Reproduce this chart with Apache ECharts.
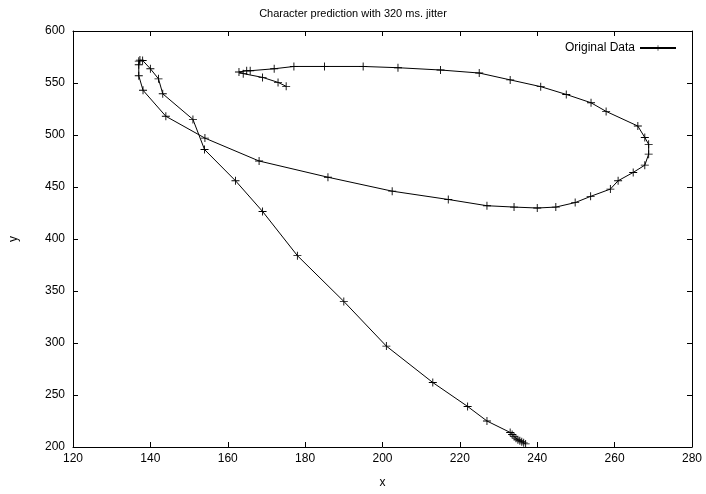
<!DOCTYPE html>
<html><head><meta charset="utf-8">
<script src="https://cdn.jsdelivr.net/npm/echarts@6/dist/echarts.min.js"></script>
<style>html,body{margin:0;padding:0;background:#fff}#c{width:706px;height:494px}</style>
</head><body><div id="c"></div>
<script>
var titleText = 'Character prediction with 320 ms. jitter';
var seriesName = 'Original Data';
var xTicks = [120, 140, 160, 180, 200, 220, 240, 260, 280];
var yTicks = [200, 250, 300, 350, 400, 450, 500, 550, 600];
var xValues = [237,236.5,236,235.5,235,234.5,234,233.5,233,227,222,213,201,190,178,169,162,154,151,143.2,142.1,140,138,137.3,137,137,137,138.1,144,154.1,168.1,185.9,202.5,217,227,234,240,244.8,249.8,253.8,258.9,260.9,264.8,267.8,268.8,268.8,267.8,266,257.8,253.9,247.5,240.9,233,225,215,204,195,185,177.1,172,165.8,164.9,162.9,164,169,173,175.1];
var yValues = [203,204,205,206,207,208.5,210,212,214,225,239,262,297,340,384,426.5,456,486,515,539.6,554,563.7,571.7,572,571,567.5,557,543,518,497,475,459.4,446,438,432,430.7,429.8,430.7,435,441,448,456,464,471,481.6,491,497.6,508.6,522.7,531,539,546.5,553,559.6,562.5,564.7,565.9,565.9,565.9,563.7,561.8,561.8,560.6,559,555.4,550.6,546.8];

var data = xValues.map(function(x, i){ return [x, yValues[i]]; });
var font = 'Liberation Sans, Arial, sans-serif';
var cross = 'path://M4,0h1v4h4v1h-4v4h-1v-4h-4v-1h4z';

function xAx(pos, show) {
  return {
    type: 'value', position: pos, min: xTicks[0], max: xTicks[xTicks.length-1], interval: 20,
    name: show ? 'x' : '', nameLocation: 'middle', nameGap: 30,
    nameTextStyle: {color:'#000', fontSize: 12, fontFamily: font},
    axisLine: {show: true, onZero: false, lineStyle: {color:'#000', width: 1}},
    axisTick: {show: true, inside: true, length: 5, lineStyle: {color:'#000'}},
    axisLabel: {show: show, color:'#000', fontSize: 12, fontFamily: font, margin: 6},
    splitLine: {show: false}
  };
}
function yAx(pos, show) {
  return {
    type: 'value', position: pos, min: yTicks[0], max: yTicks[yTicks.length-1], interval: 50,
    name: show ? 'y' : '', nameLocation: 'middle', nameGap: 53, nameRotate: 90,
    nameTextStyle: {color:'#000', fontSize: 12, fontFamily: font},
    axisLine: {show: true, onZero: false, lineStyle: {color:'#000', width: 1}},
    axisTick: {show: true, inside: true, length: 5, lineStyle: {color:'#000'}},
    axisLabel: {show: show, color:'#000', fontSize: 12, fontFamily: font, margin: 8},
    splitLine: {show: false}
  };
}

var chart = echarts.init(document.getElementById('c'), null, {renderer: 'canvas'});
chart.setOption({
  animation: false,
  backgroundColor: '#fff',
  title: {text: titleText, left: 'center', top: 3, textStyle: {color:'#000', fontSize: 11, fontWeight: 'normal', fontFamily: font}},
  grid: {left: 66, right: 14, top: 31, bottom: 44},
  legend: {
    right: 24, top: 37, align: 'right', itemWidth: 36, itemHeight: 7, itemGap: 8,
    textStyle: {color:'#000', fontSize: 12, fontFamily: font},
    data: [{name: seriesName}]
  },
  xAxis: [xAx('bottom', true), xAx('top', false)],
  yAxis: [yAx('left', true), yAx('right', false)],
  series: [{
    name: seriesName, type: 'line', data: data, xAxisIndex: 0, yAxisIndex: 0,
    symbol: cross, symbolSize: 8, showAllSymbol: true,
    lineStyle: {color: '#000', width: 1},
    itemStyle: {color: '#000'}
  }]
});
</script></body></html>
